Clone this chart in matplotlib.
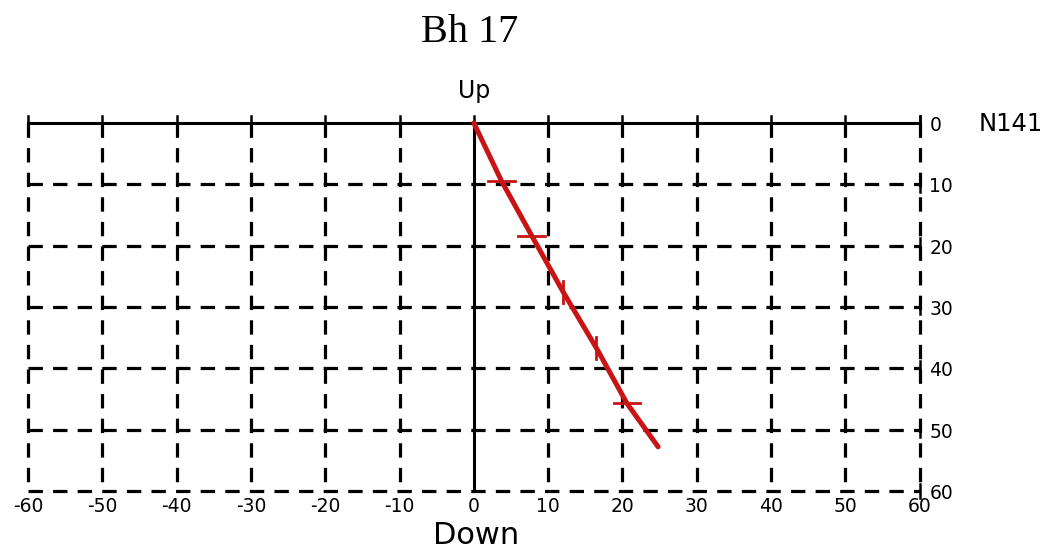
import numpy as np
import matplotlib.pyplot as plt

# borehole trace (horizontal offset, depth)
trace_x = [0, 3.7, 7.8, 12.0, 16.5, 20.6, 24.8]
trace_y = [0, 9.4, 18.4, 27.5, 36.7, 45.7, 52.8]
# marks along the trace: h = horizontal bar, v = vertical bar
mark_x = [3.7, 7.8, 12.0, 16.5, 20.6]
mark_y = [9.4, 18.4, 27.5, 36.7, 45.7]
mark_kind = ['h', 'h', 'v', 'v', 'h']

x_ticks = [-60, -50, -40, -30, -20, -10, 0, 10, 20, 30, 40, 50, 60]
y_ticks = [0, 10, 20, 30, 40, 50, 60]

fig = plt.figure(figsize=(10.49, 5.52), dpi=100)
ax = fig.add_axes([0.0267, 0.1105, 0.850, 0.6667])
ax.set_xlim(-60, 60)
ax.set_ylim(60, 0)
ax.axis('off')

dash = (0, (4.5, 3.2))
lw = 2.3
# dashed grid
for xv in x_ticks:
    if xv != 0:
        ax.plot([xv, xv], [0, 60], color='black', lw=lw, ls=dash, clip_on=False)
for yv in y_ticks[1:]:
    ax.plot([-60, 60], [yv, yv], color='black', lw=lw, ls=dash, clip_on=False)

# solid top line and centre line
ax.plot([-60, 60], [0, 0], color='black', lw=2.2, clip_on=False)
ax.plot([0, 0], [0, 60], color='black', lw=2.2, clip_on=False)

# small ticks on top line and right side
for xv in x_ticks:
    ax.plot([xv, xv], [-1.2, 1.2], color='black', lw=1.8, clip_on=False)
for yv in y_ticks:
    ax.plot([60, 60], [yv - 1.2, yv + 1.2], color='black', lw=1.8, clip_on=False)

# trace
red = '#c81414'
ax.plot(trace_x, trace_y, color=red, lw=3.6, solid_capstyle='round', clip_on=False)
for mx, my, k in zip(mark_x, mark_y, mark_kind):
    if k == 'h':
        ax.plot([mx - 1.8, mx + 1.8], [my, my], color=red, lw=2.0, clip_on=False)
    else:
        ax.plot([mx, mx], [my - 1.8, my + 1.8], color=red, lw=2.0, clip_on=False)

sans = 'DejaVu Sans'
for xv in x_ticks:
    ax.text(xv, 61.0, str(xv), ha='center', va='top', fontsize=13.5, family=sans)
for yv in y_ticks:
    ax.text(61.3, yv + 0.4, str(yv), ha='left', va='center', fontsize=13.5, family=sans)

ax.text(0, -3.3, 'Up', ha='center', va='bottom', fontsize=17, family=sans)
ax.text(0.3, 64.9, 'Down', ha='center', va='top', fontsize=22, family=sans)
ax.text(68.0, 0.1, 'N141', ha='left', va='center', fontsize=17.5, family=sans)
fig.text(0.448, 0.942, 'Bh 17', ha='center', va='center', fontsize=29, family='Liberation Serif')

fig.savefig('out.png', dpi=100)
